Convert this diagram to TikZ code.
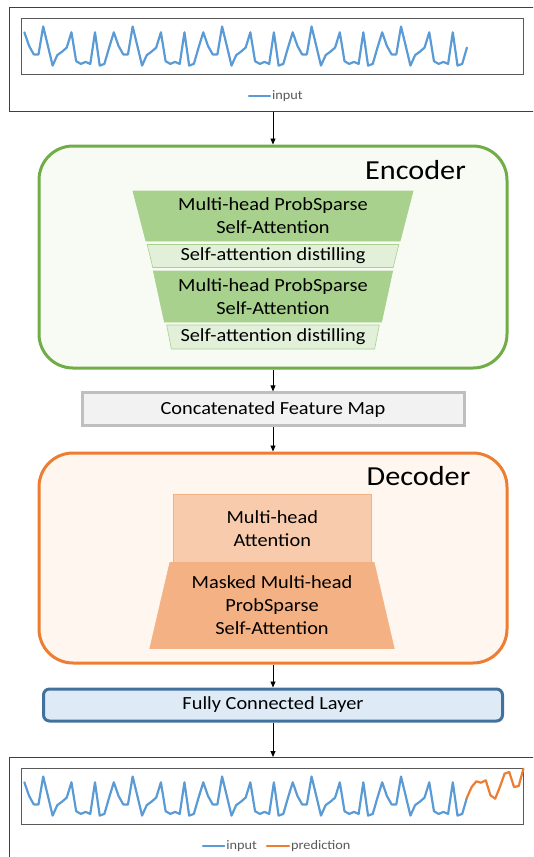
\documentclass[tikz,border=0pt]{standalone}
\usepackage{fontspec}
\setmainfont{Carlito}[FakeStretch=1.1]
\usetikzlibrary{shapes.geometric,arrows.meta}

\definecolor{encline}{RGB}{112,173,71}
\definecolor{encfill}{RGB}{248,251,244}
\definecolor{encdark}{RGB}{169,209,142}
\definecolor{enclight}{RGB}{226,240,217}
\definecolor{decline}{RGB}{237,125,49}
\definecolor{decfill}{RGB}{254,246,239}
\definecolor{declight}{RGB}{248,203,173}
\definecolor{decdark}{RGB}{244,177,131}
\definecolor{catline}{RGB}{191,191,191}
\definecolor{catfill}{RGB}{242,242,242}
\definecolor{fcline}{RGB}{65,113,156}
\definecolor{fcfill}{RGB}{222,235,247}
\definecolor{serin}{RGB}{91,155,213}
\definecolor{serout}{RGB}{237,125,49}
\definecolor{legtext}{RGB}{89,89,89}

\newcommand{\blockfont}{\fontsize{18.5}{23}\selectfont}
\newcommand{\titlefont}{\fontsize{27.5}{32}\selectfont}

% one period of the input series, and the predicted tail
\def\wavearr{{26.5,45.9,65.6,55.1,51.7,47.6,32.3,61.2,63.9,61.9,63.9,32.3,65.6,63.9,47.6,32.3,45.9,54.4,54.4}}
\def\predarr{{46.7,37,31.3,32.7,30.3,45.3,48.7,37,23.7,22,37,36,18.7}}

\tikzset{
  frame/.style={draw=black!75,line width=1.2,minimum width=540,anchor=north west},
  chartbox/.style={draw=black!65,line width=1.2},
  series/.style={line width=2.2,line join=round,line cap=round},
  legend/.style={text=legtext,font=\fontsize{13}{15}\selectfont,inner sep=1,anchor=west},
  bigbox/.style={line width=3,rounded corners=34,minimum width=468},
  layer/.style={trapezium,trapezium stretches=true,align=center,inner sep=0,
                font=\blockfont,line width=0.6},
  flat/.style={draw=catline,fill=catfill,line width=3,font=\blockfont,inner sep=0},
  arr/.style={-{Triangle[length=6pt,width=5pt]},line width=0.8}
}

\begin{document}
\begin{tikzpicture}[x=1pt,y=-1pt]
\useasboundingbox (0,0) rectangle (533,857);
\clip (0,0) rectangle (533,857);

% input chart
\node[frame,minimum height=104] (inframe) at (8.5,7) {};
\draw[chartbox] (21.4,18.7) rectangle (523.4,74.1);
\foreach \k in {-4,...,90}{
  \pgfmathsetmacro\wy{\wavearr[mod(\k+19,19)]}
  \coordinate (w\k) at (43.2+4.708*\k,\wy);
  \coordinate (v\k) at (43.2+4.708*\k,\wy+750);
}
\draw[series,serin] (w-4) \foreach \k in {-3,...,90}{ -- (w\k)};
\draw[series,serin] (249,96.2) -- (270,96.2) node[legend] {input};

% encoder
\node[bigbox,draw=encline,fill=encfill,minimum height=222] (enc) at (273,257) {};
\node[font=\titlefont] (enctitle) at (415.5,170) {Encoder};
\node[layer,shape border rotate=180,fill=encdark,draw=encdark,
      minimum width=281,minimum height=50,trapezium angle=75] (att1) at (273,216)
      {Multi-head ProbSparse\\Self-Attention};
\node[layer,shape border rotate=180,fill=enclight,draw=encdark,
      minimum width=252,minimum height=23,trapezium angle=75] (dis1) at (273,256)
      {Self-attention distilling};
\node[layer,shape border rotate=180,fill=encdark,draw=encdark,
      minimum width=240,minimum height=51,trapezium angle=75] (att2) at (273,296.5)
      {Multi-head ProbSparse\\Self-Attention};
\node[layer,shape border rotate=180,fill=enclight,draw=encdark,
      minimum width=213,minimum height=24,trapezium angle=75] (dis2) at (273,337)
      {Self-attention distilling};

% feature map
\node[flat,minimum width=382,minimum height=33] (cat) at (273,409.4) {Concatenated Feature Map};

% decoder
\node[bigbox,draw=decline,fill=decfill,minimum height=210] (dec) at (273,558) {};
\node[font=\titlefont] (dectitle) at (418.5,476) {Decoder};
\node[draw=decdark,fill=declight,line width=0.6,minimum width=198,minimum height=68.5,
      align=center,font=\blockfont,inner sep=0] (crs) at (272.3,528.2) {Multi-head\\Attention};
\node[layer,fill=decdark,draw=decdark,
      minimum width=245,minimum height=86,trapezium angle=75] (msk) at (272,605.5)
      {Masked Multi-head\\ProbSparse\\Self-Attention};

% output layer
\node[flat,draw=fcline,fill=fcfill,rounded corners=6,minimum width=459,minimum height=32]
  (fc) at (273,705) {Fully Connected Layer};

% output chart
\node[frame,minimum height=120] (outframe) at (8.5,757) {};
\draw[chartbox] (21.4,768.8) rectangle (523.4,824.2);
\draw[series,serin] (v-4) \foreach \k in {-3,...,90}{ -- (v\k)};
\foreach \j in {1,...,12}{
  \pgfmathsetmacro\py{\predarr[\j]+750}
  \coordinate (p\j) at (43.2+4.708*90+4.708*\j,\py);
}
\draw[series,serout] (v90) \foreach \j in {1,...,12}{ -- (p\j)};
\draw[series,serin] (203,846.3) -- (224.3,846.3) node[legend] {input};
\draw[series,serout] (266.8,846.3) -- (289,846.3) node[legend] {prediction};

% flow
\draw[arr] (inframe.south -| enc.north) -- (enc.north);
\draw[arr] (enc) -- (cat);
\draw[arr] (cat) -- (dec);
\draw[arr] (dec) -- (fc);
\draw[arr] (fc.south) -- (outframe.north -| fc.south);
\end{tikzpicture}
\end{document}
